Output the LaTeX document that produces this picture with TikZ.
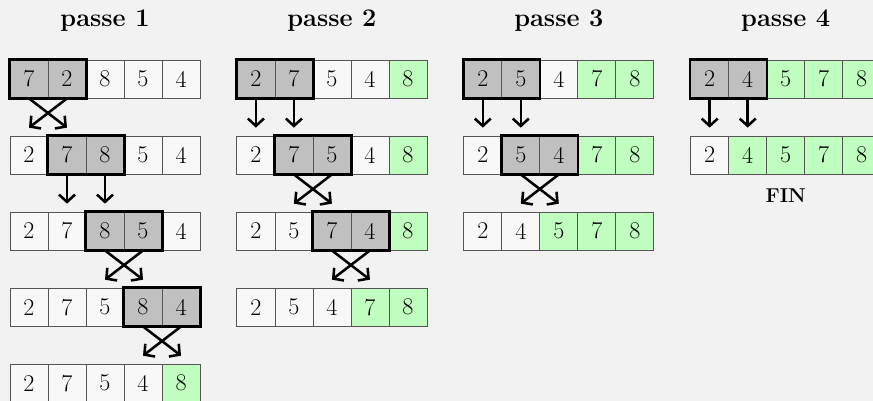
\documentclass[tikz,border=0pt]{standalone}
\usepackage{tikz}
\usetikzlibrary{arrows.meta}

\definecolor{fond}{HTML}{F2F2F2}
\definecolor{caseblanche}{HTML}{F8F8F8}
\definecolor{casegrise}{HTML}{C0C0C0}
\definecolor{caseverte}{HTML}{C0FFC0}
\definecolor{bord}{HTML}{555555}

\begin{document}
\begin{tikzpicture}
	\tikzstyle{case}=[draw=bord, line width=.6pt, minimum size=1cm, inner sep=0pt, font=\fontsize{18}{20}\selectfont]
	\tikzstyle{wh}=[fill=caseblanche]
	\tikzstyle{gr}=[fill=casegrise]
	\tikzstyle{gn}=[fill=caseverte]
	\tikzstyle{paire}=[draw=black, line width=1.8pt]
	\tikzstyle{fleche}=[line width=1.9pt, -{Straight Barb[length=5.5pt,width=12pt]}]
	\tikzstyle{titre}=[font=\fontsize{19}{22}\selectfont\bfseries, anchor=base]
	\fill[fond] (0,0) rectangle (22.97,-10.55);
	\useasboundingbox (0,0) rectangle (22.97,-10.55);
	% passe 1
	\draw (2.763,-0.71) node (t1) [titre] {passe 1};
	\foreach \v/\s [count=\i] in {7/gr,2/gr,8/wh,5/wh,4/wh}
		\draw (0.263+\i-0.5,-2.079) node (a1\i) [case,\s] {\v};
	\foreach \v/\s [count=\i] in {2/wh,7/gr,8/gr,5/wh,4/wh}
		\draw (0.263+\i-0.5,-4.079) node (a2\i) [case,\s] {\v};
	\foreach \v/\s [count=\i] in {2/wh,7/wh,8/gr,5/gr,4/wh}
		\draw (0.263+\i-0.5,-6.079) node (a3\i) [case,\s] {\v};
	\foreach \v/\s [count=\i] in {2/wh,7/wh,5/wh,8/gr,4/gr}
		\draw (0.263+\i-0.5,-8.079) node (a4\i) [case,\s] {\v};
	\foreach \v/\s [count=\i] in {2/wh,7/wh,5/wh,4/wh,8/gn}
		\draw (0.263+\i-0.5,-10.079) node (a5\i) [case,\s] {\v};
	\draw[paire] (a11.north west) rectangle (a12.south east);
	\draw[paire] (a22.north west) rectangle (a23.south east);
	\draw[paire] (a33.north west) rectangle (a34.south east);
	\draw[paire] (a44.north west) rectangle (a45.south east);
	\draw[fleche] (a11.south) -- ([yshift=.21cm]a22.north);
	\draw[fleche] (a12.south) -- ([yshift=.21cm]a21.north);
	\draw[fleche] (a22.south) -- ([yshift=.21cm]a32.north);
	\draw[fleche] (a23.south) -- ([yshift=.21cm]a33.north);
	\draw[fleche] (a33.south) -- ([yshift=.21cm]a44.north);
	\draw[fleche] (a34.south) -- ([yshift=.21cm]a43.north);
	\draw[fleche] (a44.south) -- ([yshift=.21cm]a55.north);
	\draw[fleche] (a45.south) -- ([yshift=.21cm]a54.north);
	% passe 2
	\draw (8.733,-0.71) node (t2) [titre] {passe 2};
	\foreach \v/\s [count=\i] in {2/gr,7/gr,5/wh,4/wh,8/gn}
		\draw (6.233+\i-0.5,-2.079) node (b1\i) [case,\s] {\v};
	\foreach \v/\s [count=\i] in {2/wh,7/gr,5/gr,4/wh,8/gn}
		\draw (6.233+\i-0.5,-4.079) node (b2\i) [case,\s] {\v};
	\foreach \v/\s [count=\i] in {2/wh,5/wh,7/gr,4/gr,8/gn}
		\draw (6.233+\i-0.5,-6.079) node (b3\i) [case,\s] {\v};
	\foreach \v/\s [count=\i] in {2/wh,5/wh,4/wh,7/gn,8/gn}
		\draw (6.233+\i-0.5,-8.079) node (b4\i) [case,\s] {\v};
	\draw[paire] (b11.north west) rectangle (b12.south east);
	\draw[paire] (b22.north west) rectangle (b23.south east);
	\draw[paire] (b33.north west) rectangle (b34.south east);
	\draw[fleche] (b11.south) -- ([yshift=.21cm]b21.north);
	\draw[fleche] (b12.south) -- ([yshift=.21cm]b22.north);
	\draw[fleche] (b22.south) -- ([yshift=.21cm]b33.north);
	\draw[fleche] (b23.south) -- ([yshift=.21cm]b32.north);
	\draw[fleche] (b33.south) -- ([yshift=.21cm]b44.north);
	\draw[fleche] (b34.south) -- ([yshift=.21cm]b43.north);
	% passe 3
	\draw (14.703,-0.71) node (t3) [titre] {passe 3};
	\foreach \v/\s [count=\i] in {2/gr,5/gr,4/wh,7/gn,8/gn}
		\draw (12.203+\i-0.5,-2.079) node (c1\i) [case,\s] {\v};
	\foreach \v/\s [count=\i] in {2/wh,5/gr,4/gr,7/gn,8/gn}
		\draw (12.203+\i-0.5,-4.079) node (c2\i) [case,\s] {\v};
	\foreach \v/\s [count=\i] in {2/wh,4/wh,5/gn,7/gn,8/gn}
		\draw (12.203+\i-0.5,-6.079) node (c3\i) [case,\s] {\v};
	\draw[paire] (c11.north west) rectangle (c12.south east);
	\draw[paire] (c22.north west) rectangle (c23.south east);
	\draw[fleche] (c11.south) -- ([yshift=.21cm]c21.north);
	\draw[fleche] (c12.south) -- ([yshift=.21cm]c22.north);
	\draw[fleche] (c22.south) -- ([yshift=.21cm]c33.north);
	\draw[fleche] (c23.south) -- ([yshift=.21cm]c32.north);
	% passe 4
	\draw (20.673,-0.71) node (t4) [titre] {passe 4};
	\foreach \v/\s [count=\i] in {2/gr,4/gr,5/gn,7/gn,8/gn}
		\draw (18.173+\i-0.5,-2.079) node (d1\i) [case,\s] {\v};
	\foreach \v/\s [count=\i] in {2/wh,4/gn,5/gn,7/gn,8/gn}
		\draw (18.173+\i-0.5,-4.079) node (d2\i) [case,\s] {\v};
	\draw[paire] (d11.north west) rectangle (d12.south east);
	\draw[fleche] (d11.south) -- ([yshift=.21cm]d21.north);
	\draw[fleche] (d12.south) -- ([yshift=.21cm]d22.north);
	\draw (20.673,-5.32) node (fin) [font=\fontsize{15}{17}\selectfont\bfseries, anchor=base] {FIN};
\end{tikzpicture}
\end{document}
